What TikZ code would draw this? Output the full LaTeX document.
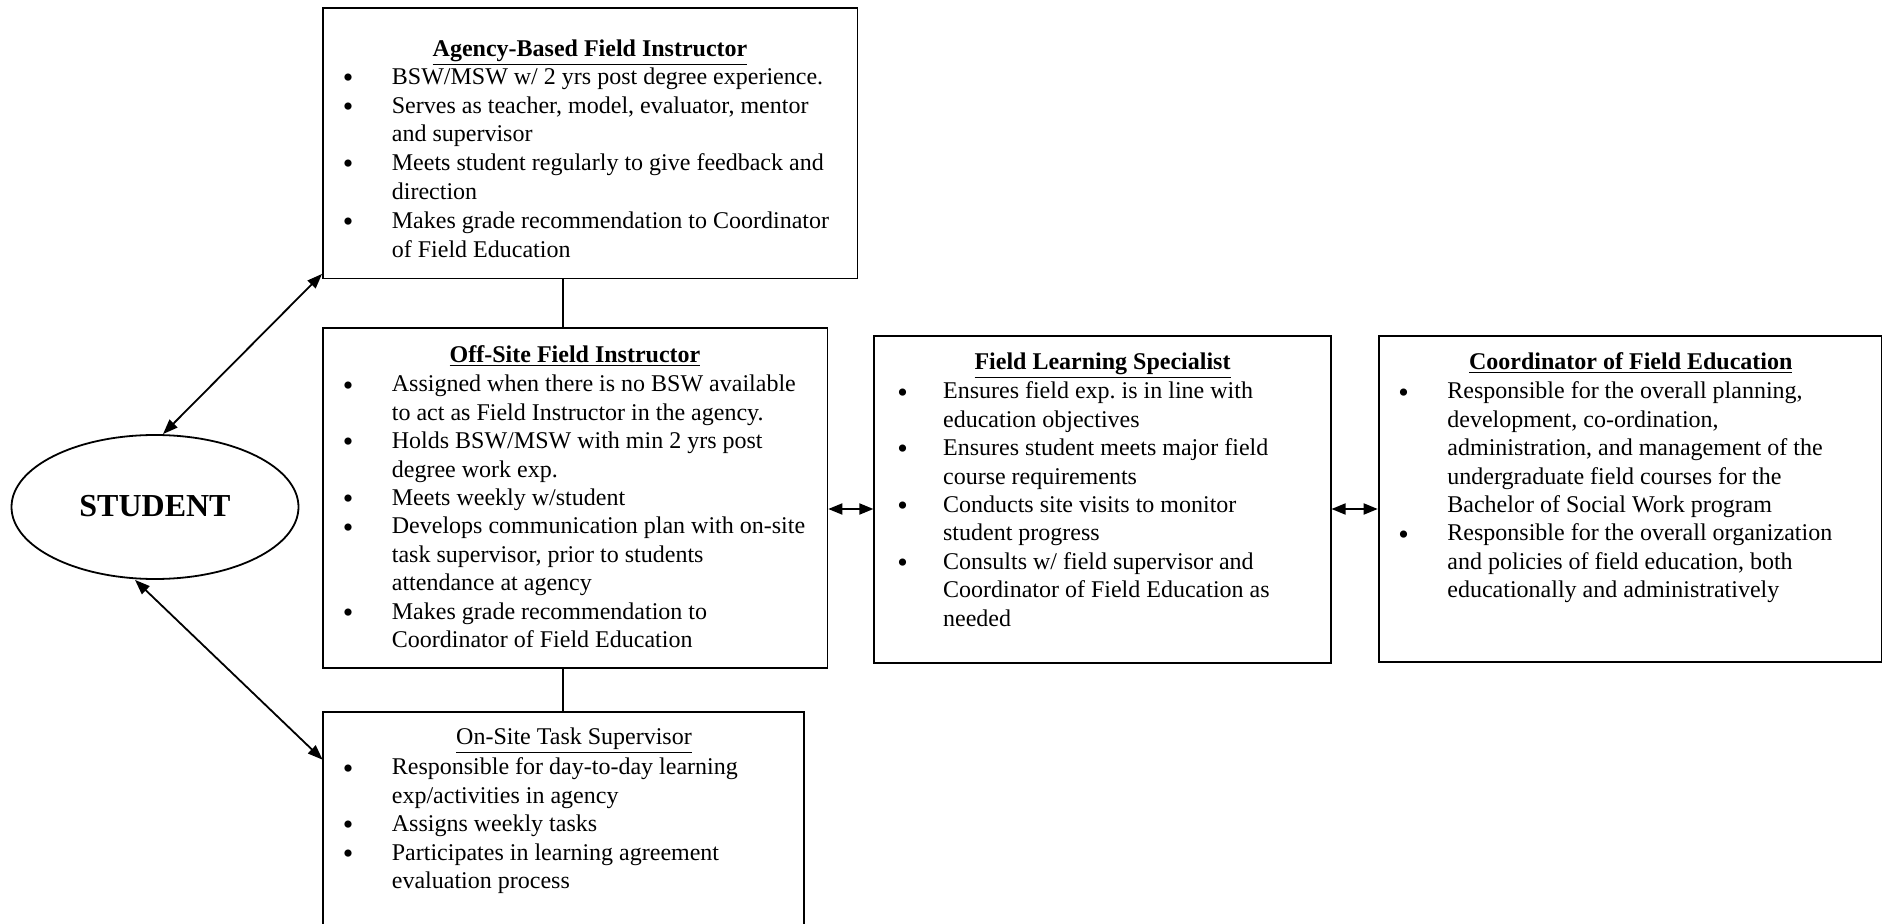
\documentclass[tikz,border=0pt]{standalone}
\usepackage{fontspec}
\setmainfont{Liberation Serif}
\usetikzlibrary{arrows.meta,shapes.geometric,fit}
\frenchspacing
\newcommand\bl{\llap{\raisebox{-1.6pt}{\fontsize{15}{15}\selectfont\textbullet}\hspace{19.3pt}}}
\newcommand\blf{\llap{\raisebox{-1.6pt}{\fontsize{15}{15}\selectfont\textbullet}\hspace{17.6pt}}}
\newcommand\fr{\rule{0pt}{10pt}}
\begin{document}
\begin{tikzpicture}[x=0.5pt,y=-0.5pt,
  box/.style={draw,line width=0.9pt,inner sep=0pt},
  body/.style={inner sep=0pt,anchor=north west,align=left,font=\fontsize{12}{14.2}\selectfont},
  ttl/.style={inner sep=0pt,anchor=base,font=\fontsize{12}{14.2}\selectfont},
  link/.style={line width=0.9pt},
  dbl/.style={line width=0.9pt,{Triangle[length=7pt,width=5.5pt]}-{Triangle[length=7pt,width=5.5pt]}},
  dbll/.style={line width=0.9pt,{Triangle[length=7.5pt,width=5.5pt]}-{Triangle[length=7.5pt,width=5.5pt]}}]
\useasboundingbox (0,0) rectangle (1883,924);

% boxes
\node[box,fit={(323,8.4) (857.5,278.6)}] (agency) {};
\node[box,fit={(323,327.8) (827.4,667.7)}] (offsite) {};
\node[box,fit={(874.3,336.3) (1330.6,662.9)}] (fls) {};
\node[box,fit={(1378.6,336.3) (1881.5,661.7)}] (coord) {};
\node[inner sep=0pt,fit={(323,712.1) (803.4,926)}] (onsite) {};
\draw[link] (onsite.south west) -- (onsite.north west) -- (onsite.north east) -- (onsite.south east);

\node[draw,ellipse,line width=0.9pt,minimum width=143.5pt,minimum height=72pt,inner sep=0pt,
  font=\fontsize{16}{19}\selectfont\bfseries] (student) at (155,507) {\raisebox{1pt}{STUDENT}};

% titles
\node[ttl] (agencyT) at (590,56.5) {\underline{\textbf{Agency-Based Field Instructor}}};
\node[ttl] (offsiteT) at (575,362.5) {\underline{\textbf{Off-Site Field Instructor}}};
\node[ttl] (flsT) at (1102.5,369.5) {\underline{\textbf{Field Learning Specialist}}};
\node[ttl] (coordT) at (1630.8,369.5) {\underline{\textbf{Coordinator of Field Education}}};
\node[ttl] (onsiteT) at (574,744.5) {\underline{On-Site Task Supervisor}};

% bodies
\node[body,font=\fontsize{12}{14.4}\selectfont] (agencyB) at (391.5,64) {\fr\bl BSW/MSW w/ 2 yrs post degree experience.\\
\bl Serves as teacher, model, evaluator, mentor\\
and supervisor\\
\bl Meets student regularly to give feedback and\\
direction\\
\bl Makes grade recommendation to Coordinator\\
of Field Education};

\node[body] (offsiteB) at (391.5,371.5) {\fr\bl Assigned when there is no BSW available\\
to act as Field Instructor in the agency.\\
\bl Holds BSW/MSW with min 2 yrs post\\
degree work exp.\\
\bl Meets weekly w/student\\
\bl Develops communication plan with on-site\\
task supervisor, prior to students\\
attendance at agency\\
\bl Makes grade recommendation to\\
Coordinator of Field Education};

\node[body] (flsB) at (942.7,378.5) {\fr\blf Ensures field exp. is in line with\\
education objectives\\
\blf Ensures student meets major field\\
course requirements\\
\blf Conducts site visits to monitor\\
student progress\\
\blf Consults w/ field supervisor and\\
Coordinator of Field Education as\\
needed};

\node[body] (coordB) at (1447,378.5) {\fr\bl Responsible for the overall planning,\\
development, co-ordination,\\
administration, and management of the\\
undergraduate field courses for the\\
Bachelor of Social Work program\\
\bl Responsible for the overall organization\\
and policies of field education, both\\
educationally and administratively};

\node[body] (onsiteB) at (391.5,754.5) {\fr\bl Responsible for day-to-day learning\\
exp/activities in agency\\
\bl Assigns weekly tasks\\
\bl Participates in learning agreement\\
evaluation process};

% connectors
\coordinate (vline) at (563,0);
\coordinate (hrow) at (0,509);
\draw[link] (agency.south -| vline) -- (offsite.north -| vline);
\draw[link] (offsite.south -| vline) -- (onsite.north -| vline);
\draw[dbl] (offsite.east |- hrow) -- (fls.west |- hrow);
\draw[dbl] (fls.east |- hrow) -- (coord.west |- hrow);
\coordinate (aEnd) at ([yshift=2.8pt]agency.south west);
\coordinate (oEnd) at ([yshift=-24pt]onsite.north west);
\draw[dbll] ([xshift=4pt]student.north) -- (aEnd);
\draw[dbll] ([xshift=-10pt]student.south) -- (oEnd);
\end{tikzpicture}
\end{document}
